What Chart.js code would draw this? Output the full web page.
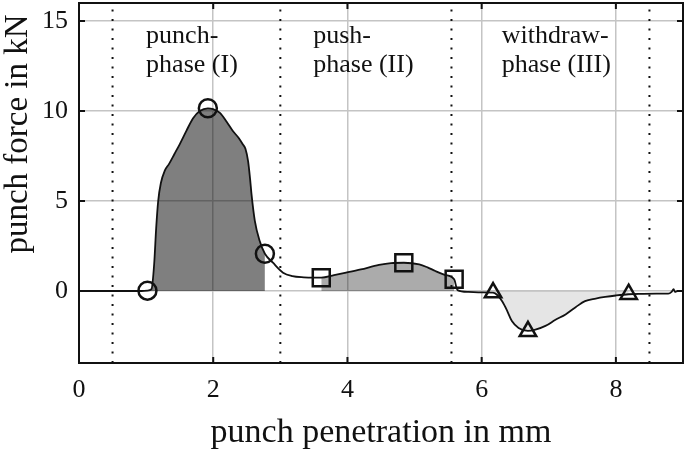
<!DOCTYPE html>
<html>
<head>
<meta charset="utf-8">
<script src="https://cdn.jsdelivr.net/npm/chart.js@4.4.1/dist/chart.umd.min.js"></script>
<style>
  html, body { margin: 0; padding: 0; background: #fff; }
</style>
</head>
<body>
<canvas id="myChart" width="685" height="450"></canvas>
<script>
// measured curve: punch penetration (mm) vs punch force (kN)
const penetration = [0, 0.5, 0.9, 1.02, 1.08, 1.12, 1.15, 1.18, 1.22, 1.28, 1.34, 1.42, 1.5, 1.6, 1.7, 1.8, 1.92, 2.0, 2.1, 2.2, 2.29, 2.38, 2.44, 2.48, 2.52, 2.55, 2.57, 2.62, 2.69, 2.77, 2.89, 3.04, 3.18, 3.35, 3.48, 3.61, 3.8, 3.98, 4.2, 4.47, 4.65, 4.84, 5.07, 5.2, 5.31, 5.45, 5.59, 5.64, 5.8, 6.0, 6.17, 6.24, 6.31, 6.38, 6.45, 6.55, 6.69, 6.8, 6.95, 7.1, 7.25, 7.4, 7.54, 7.7, 7.84, 8.0, 8.19, 8.4, 8.6, 8.78, 8.83, 8.86, 8.88, 8.92, 9.0];
const force = [0, 0, 0, 0.02, 0.1, 1.5, 3.5, 5.0, 6.0, 6.7, 7.05, 7.6, 8.15, 8.9, 9.6, 10.0, 10.15, 10.1, 9.9, 9.4, 8.9, 8.5, 8.15, 7.9, 7.2, 6.2, 5.4, 3.9, 2.8, 2.07, 1.57, 1.02, 0.83, 0.76, 0.74, 0.74, 0.88, 1.02, 1.2, 1.45, 1.55, 1.57, 1.48, 1.3, 1.11, 0.9, 0.65, 0.05, -0.05, -0.08, -0.09, -0.25, -0.6, -1.1, -1.67, -2.05, -2.22, -2.15, -1.94, -1.6, -1.3, -0.9, -0.56, -0.42, -0.33, -0.25, -0.18, -0.16, -0.15, -0.15, -0.05, 0.1, -0.05, 0, 0];

// phase markers
const circleX = [1.02, 1.92, 2.77];
const circleY = [0.02, 10.15, 2.07];
const squareX = [3.61, 4.84, 5.59];
const squareY = [0.74, 1.57, 0.65];
const triangleX = [6.17, 6.69, 8.19];
const triangleY = [-0.09, -2.24, -0.18];

// shaded phase ranges and their labels
const phaseFrom = [1.02, 3.61, 6.17];
const phaseTo = [2.77, 5.59, 8.19];
const phaseText = [['punch-', 'phase (I)'], ['push-', 'phase (II)'], ['withdraw-', 'phase (III)']];

// dotted dividers
const dividerX = [0.5, 3.0, 5.55, 8.5];

const xTicks = [0, 2, 4, 6, 8];
const yTicks = [0, 5, 10, 15];

const serif = '"Liberation Serif", "Times New Roman", serif';
const ink = '#111';

const toPoints = (xs, ys) => xs.map((x, i) => ({ x: x, y: ys[i] }));
const curve = toPoints(penetration, force);

const phaseShade = ['rgba(0,0,0,0.5)', 'rgba(0,0,0,0.33)', 'rgba(0,0,0,0.1)'];
const fillSets = phaseFrom.map((from, i) => ({
  data: curve.filter(p => p.x >= from && p.x <= phaseTo[i]),
  borderWidth: 0,
  pointRadius: 0,
  backgroundColor: phaseShade[i],
  fill: 'origin',
  cubicInterpolationMode: 'monotone',
  order: 3
}));

const dividerSets = dividerX.map(x => ({
  data: [{ x: x, y: -4 }, { x: x, y: 16 }],
  borderColor: ink,
  borderWidth: 2,
  borderDash: [2, 7.5],
  pointRadius: 0,
  fill: false,
  order: 4
}));

const markerSet = (xs, ys, style, r) => ({
  data: toPoints(xs, ys),
  showLine: false,
  pointStyle: style,
  pointRadius: r,
  pointBorderWidth: 2.5,
  pointBorderColor: ink,
  pointBackgroundColor: 'rgba(0,0,0,0)',
  order: 0
});

// keep the plot box where the reference has it
const noPadding = s => { s.paddingTop = 0; s.paddingBottom = 0; s.paddingLeft = 0; s.paddingRight = 0; };

// frame, inward ticks, y title and phase labels
const decorations = {
  id: 'decorations',
  afterDraw(chart) {
    const ctx = chart.ctx;
    const a = chart.chartArea;
    const xs = chart.scales.x, ys = chart.scales.y;
    ctx.save();
    ctx.strokeStyle = ink;
    ctx.lineWidth = 2;
    ctx.beginPath();
    xTicks.forEach(v => {
      const px = xs.getPixelForValue(v);
      ctx.moveTo(px, a.bottom); ctx.lineTo(px, a.bottom - 6);
      ctx.moveTo(px, a.top); ctx.lineTo(px, a.top + 6);
    });
    yTicks.forEach(v => {
      const py = ys.getPixelForValue(v);
      ctx.moveTo(a.left, py); ctx.lineTo(a.left + 6, py);
      ctx.moveTo(a.right, py); ctx.lineTo(a.right - 6, py);
    });
    ctx.stroke();
    ctx.strokeRect(a.left, a.top, a.right - a.left, a.bottom - a.top);

    ctx.fillStyle = ink;
    ctx.font = '26px ' + serif;
    ctx.textAlign = 'left';
    ctx.textBaseline = 'middle';
    const labelLeft = [1.0, 3.49, 6.3];
    phaseText.forEach((lines, i) => {
      const px = xs.getPixelForValue(labelLeft[i]);
      ctx.fillText(lines[0], px, ys.getPixelForValue(14.15));
      ctx.fillText(lines[1], px, ys.getPixelForValue(12.55));
    });

    ctx.font = '33px ' + serif;
    ctx.textAlign = 'center';
    ctx.translate(18, 134);
    ctx.rotate(-Math.PI / 2);
    ctx.fillText('punch force in kN', 0, 0);
    ctx.restore();
  }
};

const chartArea = document.getElementById('myChart').getContext('2d');
const myChart = new Chart(chartArea, {
  type: 'line',
  data: {
    datasets: [
      markerSet(circleX, circleY, 'circle', 9),
      markerSet(squareX, squareY, 'rect', 12),
      markerSet(triangleX, triangleY, 'triangle', 9.5),
      {
        data: curve,
        borderColor: ink,
        borderWidth: 1.8,
        pointRadius: 0,
        fill: false,
        cubicInterpolationMode: 'monotone',
        order: 1
      },
      ...fillSets,
      ...dividerSets
    ]
  },
  options: {
    responsive: false,
    animation: false,
    layout: { autoPadding: false, padding: { top: 3, right: 2, left: 0, bottom: 0 } },
    plugins: { legend: { display: false }, tooltip: { enabled: false } },
    scales: {
      x: {
        type: 'linear',
        min: 0,
        max: 9,
        afterBuildTicks: s => { s.ticks = xTicks.map(v => ({ value: v })); },
        afterFit: s => { s.height = 87; noPadding(s); },
        grid: { color: '#c4c4c4', lineWidth: 1.5, drawTicks: false },
        border: { display: false },
        ticks: { color: ink, padding: 12, font: { family: serif, size: 26 } },
        title: {
          display: true,
          text: 'punch penetration in mm',
          color: ink,
          padding: 0,
          font: { family: serif, size: 34, lineHeight: 1 }
        }
      },
      y: {
        type: 'linear',
        min: -4,
        max: 16,
        afterBuildTicks: s => { s.ticks = yTicks.map(v => ({ value: v })); },
        afterFit: s => { s.width = 79; noPadding(s); },
        grid: { color: '#c4c4c4', lineWidth: 1.5, drawTicks: false },
        border: { display: false },
        ticks: { color: ink, padding: 11, font: { family: serif, size: 26 } }
      }
    }
  },
  plugins: [decorations]
});
</script>
</body>
</html>
